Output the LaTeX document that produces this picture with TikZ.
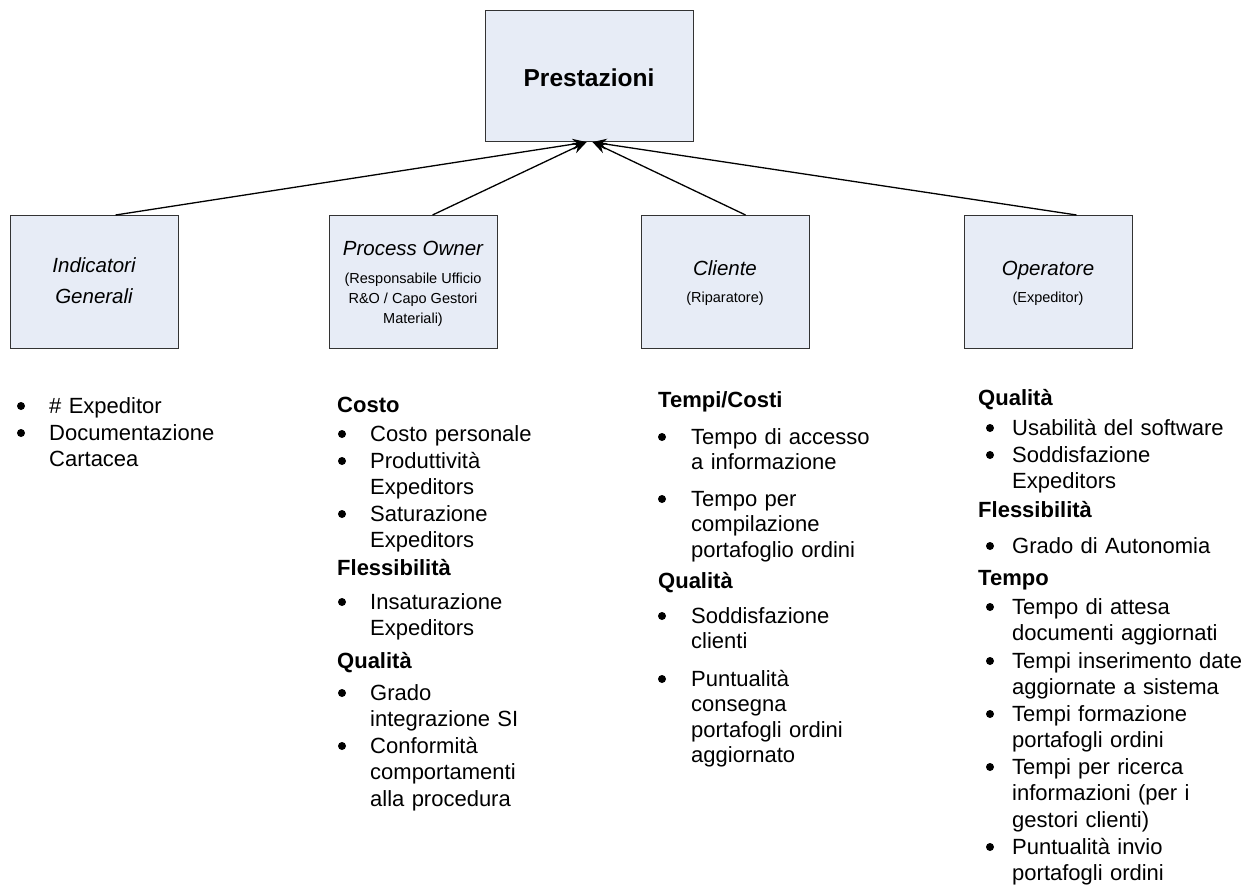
\documentclass[tikz,border=0pt]{standalone}
\usepackage{fontspec}
\setmainfont{Liberation Sans}
\usetikzlibrary{arrows.meta}

\definecolor{boxfill}{RGB}{231,236,246}
\newcommand\bodyfont{\fontsize{22}{26.6}\selectfont}

% one bulleted entry: [extra style]{name}{bullet x}{text x}{first baseline}{text}
\newcommand\listitem[6][]{%
  \node[dot] (#2-dot) at (#3,#5-7) {};
  \node[itemtext,#1] (#2) at (#4,#5) {#6};
}

\begin{document}
\begin{tikzpicture}[x=1pt,y=-1pt,
  box/.style={draw=black!80, line width=1.1pt, fill=boxfill,
    minimum width=168pt, minimum height=133pt, inner sep=0pt, anchor=north west},
  ptitle/.style={anchor=base, inner sep=0pt, font=\fontsize{24.5}{29}\selectfont\bfseries},
  btitle/.style={anchor=base, inner sep=0pt, font=\fontsize{20.5}{24}\selectfont\itshape},
  bsub/.style={anchor=base, inner sep=0pt, font=\fontsize{14.5}{17}\selectfont},
  head/.style={anchor=base west, inner sep=0pt, font=\bodyfont\bfseries},
  itemtext/.style={anchor=base west, inner sep=0pt, text width=320pt, align=left, font=\bodyfont},
  tight/.style={font=\fontsize{22}{25.5}\selectfont},
  dot/.style={circle, fill=black, inner sep=0pt, minimum size=8pt},
  conn/.style={draw=black, line width=1.3pt, -{Stealth[length=14pt,width=11pt]}}
]
\useasboundingbox (0,0) rectangle (1256,886);

% boxes
\node[box, minimum width=208pt, minimum height=131pt] (top) at (485,10) {};
\node[box] (ig) at (10,215) {};
\node[box] (po) at (329,215) {};
\node[box] (cl) at (641,215) {};
\node[box] (op) at (964,215) {};

% box captions
\node[ptitle] (top-t) at (589,86) {Prestazioni};

\node[btitle] (ig-t1) at (94,272) {Indicatori};
\node[btitle] (ig-t2) at (94,303) {Generali};

\node[btitle] (po-t) at (413,255) {Process Owner};
\node[bsub] (po-s1) at (413,283) {(Responsabile Ufficio};
\node[bsub] (po-s2) at (413,303) {R\&O / Capo Gestori};
\node[bsub] (po-s3) at (413,323) {Materiali)};

\node[btitle] (cl-t) at (725,275) {Cliente};
\node[bsub] (cl-s) at (725,302) {(Riparatore)};

\node[btitle] (op-t) at (1048,275) {Operatore};
\node[bsub] (op-s) at (1048,302) {(Expeditor)};

% connectors into the top box
\draw[conn] ([xshift=21pt]ig.north) -- ([xshift=-3pt]top.south);
\draw[conn] ([xshift=19pt]po.north) -- ([xshift=-3pt]top.south);
\draw[conn] ([xshift=20pt]cl.north) -- ([xshift=3pt]top.south);
\draw[conn] ([xshift=28pt]op.north) -- ([xshift=3pt]top.south);

% column 1
\listitem{a1}{21}{49}{413}{\# Expeditor}
\listitem{a2}{21}{49}{440}{Documentazione\\Cartacea}

% column 2
\node[head] (b-h1) at (337,412) {Costo};
\listitem{b1}{342}{370}{441}{Costo personale}
\listitem{b2}{342}{370}{468}{Produttività\\Expeditors}
\listitem{b3}{342}{370}{521}{Saturazione\\Expeditors}
\node[head] (b-h2) at (337,575) {Flessibilità};
\listitem{b4}{342}{370}{609}{Insaturazione\\Expeditors}
\node[head] (b-h3) at (337,668) {Qualità};
\listitem{b5}{342}{370}{700}{Grado\\integrazione SI}
\listitem{b6}{342}{370}{753}{Conformità\\comportamenti\\alla procedura}

% column 3
\node[head] (c-h1) at (658,407) {Tempi/Costi};
\listitem[tight]{c1}{662}{691}{444}{Tempo di accesso\\a informazione}
\listitem[tight]{c2}{662}{691}{506}{Tempo per\\compilazione\\portafoglio ordini}
\node[head] (c-h2) at (658,588) {Qualità};
\listitem[tight]{c3}{662}{691}{623}{Soddisfazione\\clienti}
\listitem[tight]{c4}{662}{691}{686}{Puntualità\\consegna\\portafogli ordini\\aggiornato}

% column 4
\node[head] (d-h1) at (978,405) {Qualità};
\listitem{d1}{990}{1012}{435}{Usabilità del software}
\listitem{d2}{990}{1012}{462}{Soddisfazione\\Expeditors}
\node[head] (d-h2) at (978,517) {Flessibilità};
\listitem{d3}{990}{1012}{553}{Grado di Autonomia}
\node[head] (d-h3) at (978,585) {Tempo};
\listitem{d4}{990}{1012}{614}{Tempo di attesa\\documenti aggiornati}
\listitem{d5}{990}{1012}{668}{Tempi inserimento date\\aggiornate a sistema}
\listitem{d6}{990}{1012}{721}{Tempi formazione\\portafogli ordini}
\listitem{d7}{990}{1012}{774}{Tempi per ricerca\\informazioni (per i\\gestori clienti)}
\listitem{d8}{990}{1012}{854}{Puntualità invio\\portafogli ordini}
\end{tikzpicture}
\end{document}
